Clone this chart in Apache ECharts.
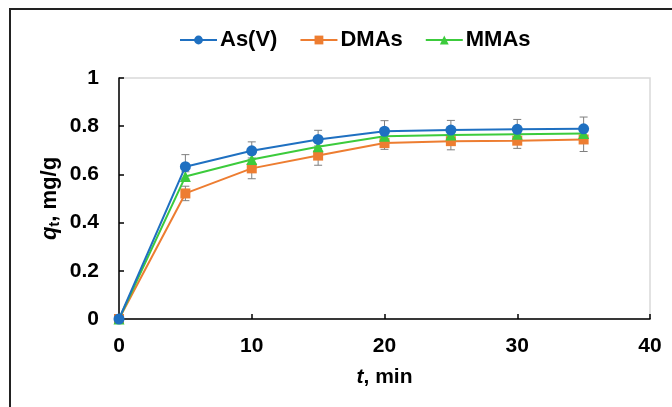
<!DOCTYPE html>
<html><head><meta charset="utf-8">
<script src="https://cdn.jsdelivr.net/npm/echarts@6/dist/echarts.min.js"></script>
<style>html,body{margin:0;padding:0;background:#fff}#c{width:672px;height:407px}</style>
</head><body><div id="c"></div>
<script>
var times = [0, 5, 10, 15, 20, 25, 30, 35];
var seriesNames = ['As(V)', 'DMAs', 'MMAs'];
var asV  = [0, 0.632, 0.698, 0.745, 0.779, 0.784, 0.787, 0.789];
var dmas = [0, 0.521, 0.625, 0.678, 0.730, 0.738, 0.740, 0.745];
var mmas = [0, 0.591, 0.662, 0.715, 0.758, 0.764, 0.767, 0.770];
var asVErr  = [0, 0.050, 0.037, 0.038, 0.044, 0.040, 0.041, 0.049];
var dmasErr = [0, 0.030, 0.043, 0.040, 0.026, 0.036, 0.032, 0.050];
var mmasErr = [0, 0.020, 0.020, 0.020, 0.020, 0.020, 0.020, 0.020];
var yTicks = [0, 0.2, 0.4, 0.6, 0.8, 1];
var xTicks = [0, 10, 20, 30, 40];

var colors = ['#1F70C1', '#ED7D31', '#3CCB3C'];
var symbols = ['circle', 'rect', 'triangle'];
var symbolSizes = [11, 10, 11];
var vals = [asV, dmas, mmas];
var errs = [asVErr, dmasErr, mmasErr];
var FONT = 'Liberation Sans, Arial, sans-serif';

function pairs(v){ return times.map(function(t,i){return [t, v[i]];}); }
function errData(v,e){ return times.map(function(t,i){return [t, v[i]-e[i], v[i]+e[i]];}); }

function errorRender(params, api){
  var x = api.value(0), lo = api.value(1), hi = api.value(2);
  if (hi - lo < 1e-6) return null;
  var pLo = api.coord([x, lo]), pHi = api.coord([x, hi]);
  var w = 4;
  var st = {stroke:'#7F7F7F', lineWidth:1};
  return {type:'group', children:[
    {type:'line', shape:{x1:pLo[0],y1:pLo[1],x2:pHi[0],y2:pHi[1]}, style:st},
    {type:'line', shape:{x1:pLo[0]-w,y1:pLo[1],x2:pLo[0]+w,y2:pLo[1]}, style:st},
    {type:'line', shape:{x1:pHi[0]-w,y1:pHi[1],x2:pHi[0]+w,y2:pHi[1]}, style:st}
  ]};
}

var series = [];
[2,1,0].forEach(function(k){
  series.push({type:'custom', name: seriesNames[k]+'_err', renderItem: errorRender,
    data: errData(vals[k], errs[k]), z: 1, silent:true,
    encode:{x:0, y:[1,2]}});
});
[0,1,2].forEach(function(k){
  series.push({type:'line', name: seriesNames[k], data: pairs(vals[k]),
    symbol: symbols[k], symbolSize: symbolSizes[k], showAllSymbol:true,
    lineStyle:{color:colors[k], width:2}, itemStyle:{color:colors[k]},
    z: k===2 ? 4 : (k===1 ? 3 : 5), animation:false});
});

var chart = echarts.init(document.getElementById('c'), null, {renderer:'canvas'});
chart.setOption({
  animation:false,
  backgroundColor:'#fff',
  legend:{
    data: seriesNames,
    top: 24, left: 174, itemWidth: 37, itemHeight: 11, itemGap: 22,
    textStyle:{fontFamily:FONT, fontWeight:'bold', fontSize:22, color:'#000', padding:[0,0,0,-2]}
  },
  grid:{left:119, right:22, top:78, bottom:88, show:true, borderColor:'#D9D9D9', borderWidth:1.5},
  xAxis:{
    type:'value', min:0, max:40, interval:10,
    name:'{i|t}, min', nameLocation:'middle', nameGap:48, nameMoveOverlap:false,
    nameTextStyle:{fontFamily:FONT, fontWeight:'bold', fontSize:21, color:'#000',
      rich:{i:{fontStyle:'italic', fontWeight:'bold', fontSize:21, fontFamily:FONT, color:'#000'}}},
    axisLine:{lineStyle:{color:'#000', width:1.5}},
    axisTick:{inside:true, length:5, lineStyle:{color:'#000', width:1.5}},
    axisLabel:{fontFamily:FONT, fontWeight:'bold', fontSize:21, color:'#000', margin:17},
    splitLine:{show:false}
  },
  yAxis:{
    type:'value', min:0, max:1, interval:0.2,
    name:'{i|q}{s|t}, mg/g', nameLocation:'middle', nameGap:57, nameRotate:90, nameMoveOverlap:false,
    nameTextStyle:{fontFamily:FONT, fontWeight:'bold', fontSize:22, color:'#000',
      rich:{i:{fontStyle:'italic', fontWeight:'bold', fontSize:22, fontFamily:FONT, color:'#000'},
            s:{fontWeight:'bold', fontSize:15, fontFamily:FONT, color:'#000', verticalAlign:'bottom', padding:[10,0,0,0]}}},
    axisLine:{show:true, lineStyle:{color:'#000', width:1.5}},
    axisTick:{show:true, inside:true, length:5, lineStyle:{color:'#000', width:1.5}},
    axisLabel:{fontFamily:FONT, fontWeight:'bold', fontSize:21, color:'#000', margin:20},
    splitLine:{show:false}
  },
  graphic:[{type:'rect', shape:{x:10, y:9, width:700, height:430},
    style:{fill:'none', stroke:'#222', lineWidth:2}, z:100, silent:true}],
  series: series
});
</script></body></html>
